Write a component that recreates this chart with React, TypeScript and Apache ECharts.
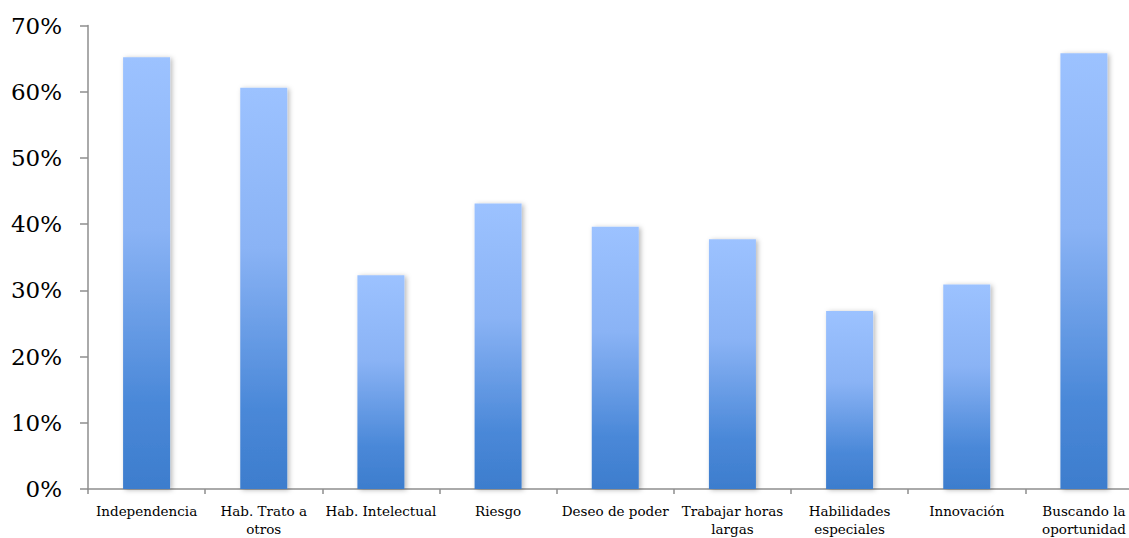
import React, { useEffect, useRef } from "react";
import * as echarts from "echarts";

// Categories along the x axis (two-line labels use "\n")
const categories = [
  "Independencia",
  "Hab. Trato a\notros",
  "Hab. Intelectual",
  "Riesgo",
  "Deseo de poder",
  "Trabajar horas\nlargas",
  "Habilidades\nespeciales",
  "Innovación",
  "Buscando la\noportunidad",
];

// Share of respondents per trait, in percent
const values = [65.2, 60.6, 32.3, 43.1, 39.6, 37.7, 26.9, 30.9, 65.8];

// Y axis range and step, in percent
const yMin = 0;
const yMax = 70;
const yStep = 10;

const AXIS_GREY = "#8e8e8e";
const FONT = "'DejaVu Serif', 'Liberation Serif', serif";

export default function App() {
  const ref = useRef<HTMLDivElement>(null);

  useEffect(() => {
    if (!ref.current) return;
    const chart = echarts.init(ref.current, undefined, { renderer: "svg" });
    chart.setOption({
      animation: false,
      backgroundColor: "#ffffff",
      grid: { left: 88, right: 17.5, top: 25.5, bottom: 45.3, containLabel: false },
      xAxis: {
        type: "category",
        data: categories,
        axisLine: { lineStyle: { color: AXIS_GREY, width: 1.5 } },
        axisTick: { show: true, alignWithLabel: false, length: 5, lineStyle: { color: AXIS_GREY, width: 1.5 } },
        axisLabel: {
          interval: 0,
          margin: 13,
          color: "#000",
          fontFamily: FONT,
          fontSize: 13.5,
          lineHeight: 18,
        },
      },
      yAxis: {
        type: "value",
        min: yMin,
        max: yMax,
        interval: yStep,
        splitLine: { show: false },
        axisLine: { show: true, lineStyle: { color: AXIS_GREY, width: 1.5 } },
        axisTick: { show: true, length: 8, lineStyle: { color: AXIS_GREY, width: 1.5 } },
        axisLabel: {
          formatter: "{value}%",
          margin: 26,
          color: "#000",
          fontFamily: FONT,
          fontSize: 23,
        },
      },
      series: [
        {
          type: "bar",
          data: values,
          barWidth: 47,
          itemStyle: {
            color: new echarts.graphic.LinearGradient(0, 0, 0, 1, [
              { offset: 0, color: "#9cc2ff" },
              { offset: 0.4, color: "#8ab3f5" },
              { offset: 0.8, color: "#4a88d8" },
              { offset: 1, color: "#3d7dcd" },
            ]),
            shadowColor: "rgba(0,0,0,0.28)",
            shadowBlur: 5,
            shadowOffsetX: 2,
            shadowOffsetY: 1,
          },
        },
      ],
    });
    return () => chart.dispose();
  }, []);

  return (
    <div
      style={{
        position: "fixed",
        left: 0,
        top: 0,
        width: 1129,
        height: 538,
        overflow: "hidden",
        background: "#fff",
      }}
    >
      <div ref={ref} style={{ width: 1160, height: 538 }} />
    </div>
  );
}
